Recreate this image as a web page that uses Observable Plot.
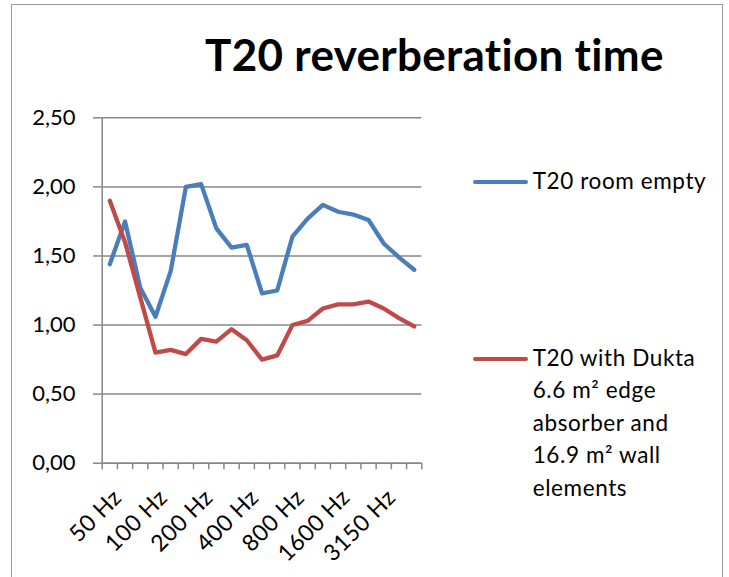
<!DOCTYPE html>
<html>
<head>
<meta charset="utf-8">
<script src="https://cdn.jsdelivr.net/npm/d3@7"></script>
<script src="https://cdn.jsdelivr.net/npm/@observablehq/plot@0.6"></script>
<style>
  html, body { margin: 0; padding: 0; background: #fff; }
  #page { position: relative; width: 729px; height: 577px; overflow: hidden; background: #fff; font-family: Lato, "Open Sans", sans-serif; color: #000; }
  #border { position: absolute; left: 11px; top: 4px; width: 712px; height: 620px; border: 1.3px solid #9a9a9a; box-sizing: border-box; }
  #chart { position: absolute; left: 0; top: 0; }
  #chart g[aria-label="x-axis tick label"] text { letter-spacing: 0.5px; }
  #title { position: absolute; left: 205px; top: 31.7px; font-size: 44px; line-height: 44px; font-weight: 700; letter-spacing: 0.3px; white-space: nowrap; }
  .legtext { position: absolute; left: 532.7px; font-size: 22.5px; line-height: 32.5px; letter-spacing: 0.6px; white-space: nowrap; }
  .swatch { position: absolute; left: 473px; width: 55px; height: 4.3px; border-radius: 2.2px; }
</style>
</head>
<body>
<div id="page">
  <div id="border"></div>
  <div id="chart"></div>
  <div id="title">T20 reverberation time</div>
  <div class="swatch" style="top:179.9px; background:#4a7ebb"></div>
  <div class="legtext" style="top:164.5px">T20 room empty</div>
  <div class="swatch" style="top:356.9px; background:#be4b48"></div>
  <div class="legtext" style="top:341.8px">T20 with Dukta<br>6.6 m² edge<br>absorber and<br>16.9 m² wall<br>elements</div>
</div>
<script>
// Third-octave band centre frequencies
const freqs = ["50 Hz","63 Hz","80 Hz","100 Hz","125 Hz","160 Hz","200 Hz","250 Hz","315 Hz","400 Hz","500 Hz",
               "630 Hz","800 Hz","1000 Hz","1250 Hz","1600 Hz","2000 Hz","2500 Hz","3150 Hz","4000 Hz","5000 Hz"];
// T20 room empty (s)
const roomEmpty = [1.44,1.75,1.27,1.06,1.39,2.00,2.02,1.70,1.56,1.58,1.23,1.25,1.64,1.77,1.87,1.82,1.80,1.76,1.59,1.49,1.40];
// T20 with Dukta absorbers (s)
const withDukta = [1.90,1.60,1.20,0.80,0.82,0.79,0.90,0.88,0.97,0.89,0.75,0.78,1.00,1.03,1.12,1.15,1.15,1.17,1.12,1.05,0.99];
// Tick labels shown on the x axis
const xTickLabels = ["50 Hz","100 Hz","200 Hz","400 Hz","800 Hz","1600 Hz","3150 Hz"];
// y ticks
const yTicks = [0, 0.5, 1, 1.5, 2, 2.5];

const n = freqs.length;
const xMin = -0.5, xMax = n - 0.5;
const boundaries = d3.range(n + 1).map(i => i - 0.5);
const labelIdx = xTickLabels.map(l => freqs.indexOf(l));
const gridColor = "#878787";
const fmt = d => d.toFixed(2).replace(".", ",");

const plot = Plot.plot({
  width: 729,
  height: 577,
  marginLeft: 101.7,
  marginRight: 307.7,
  marginTop: 117.3,
  marginBottom: 114.3,
  style: { fontFamily: "Lato, 'Open Sans', sans-serif", fontSize: "22px", color: "#000", background: "transparent", overflow: "visible" },
  x: { type: "linear", domain: [xMin, xMax] },
  y: { domain: [0, 2.5] },
  marks: [
    Plot.gridY(yTicks, { stroke: gridColor, strokeOpacity: 1, strokeWidth: 1.5 }),
    Plot.axisY(yTicks, { tickSize: 8.7, tickPadding: 18, stroke: gridColor, strokeWidth: 1.5, tickFormat: fmt, label: null, fontSize: 22 }),
    Plot.ruleX([xMin], { stroke: gridColor, strokeWidth: 1.5 }),
    Plot.ruleY([0], { stroke: gridColor, strokeWidth: 1.5 }),
    Plot.axisX(boundaries, { tickSize: 6.5, stroke: gridColor, strokeWidth: 1.5, tickFormat: () => "", label: null }),
    Plot.axisX(labelIdx, { tickSize: 0, tickRotate: -45, tickPadding: 30.5, dx: 8, tickFormat: i => freqs[i], label: null, fontSize: 23 }),
    Plot.lineY(roomEmpty, { x: (d, i) => i, y: d => d, stroke: "#4a7ebb", strokeWidth: 4.3, strokeLinecap: "round", strokeLinejoin: "round" }),
    Plot.lineY(withDukta, { x: (d, i) => i, y: d => d, stroke: "#be4b48", strokeWidth: 4.3, strokeLinecap: "round", strokeLinejoin: "round" })
  ]
});
document.getElementById("chart").appendChild(plot);
</script>
</body>
</html>
